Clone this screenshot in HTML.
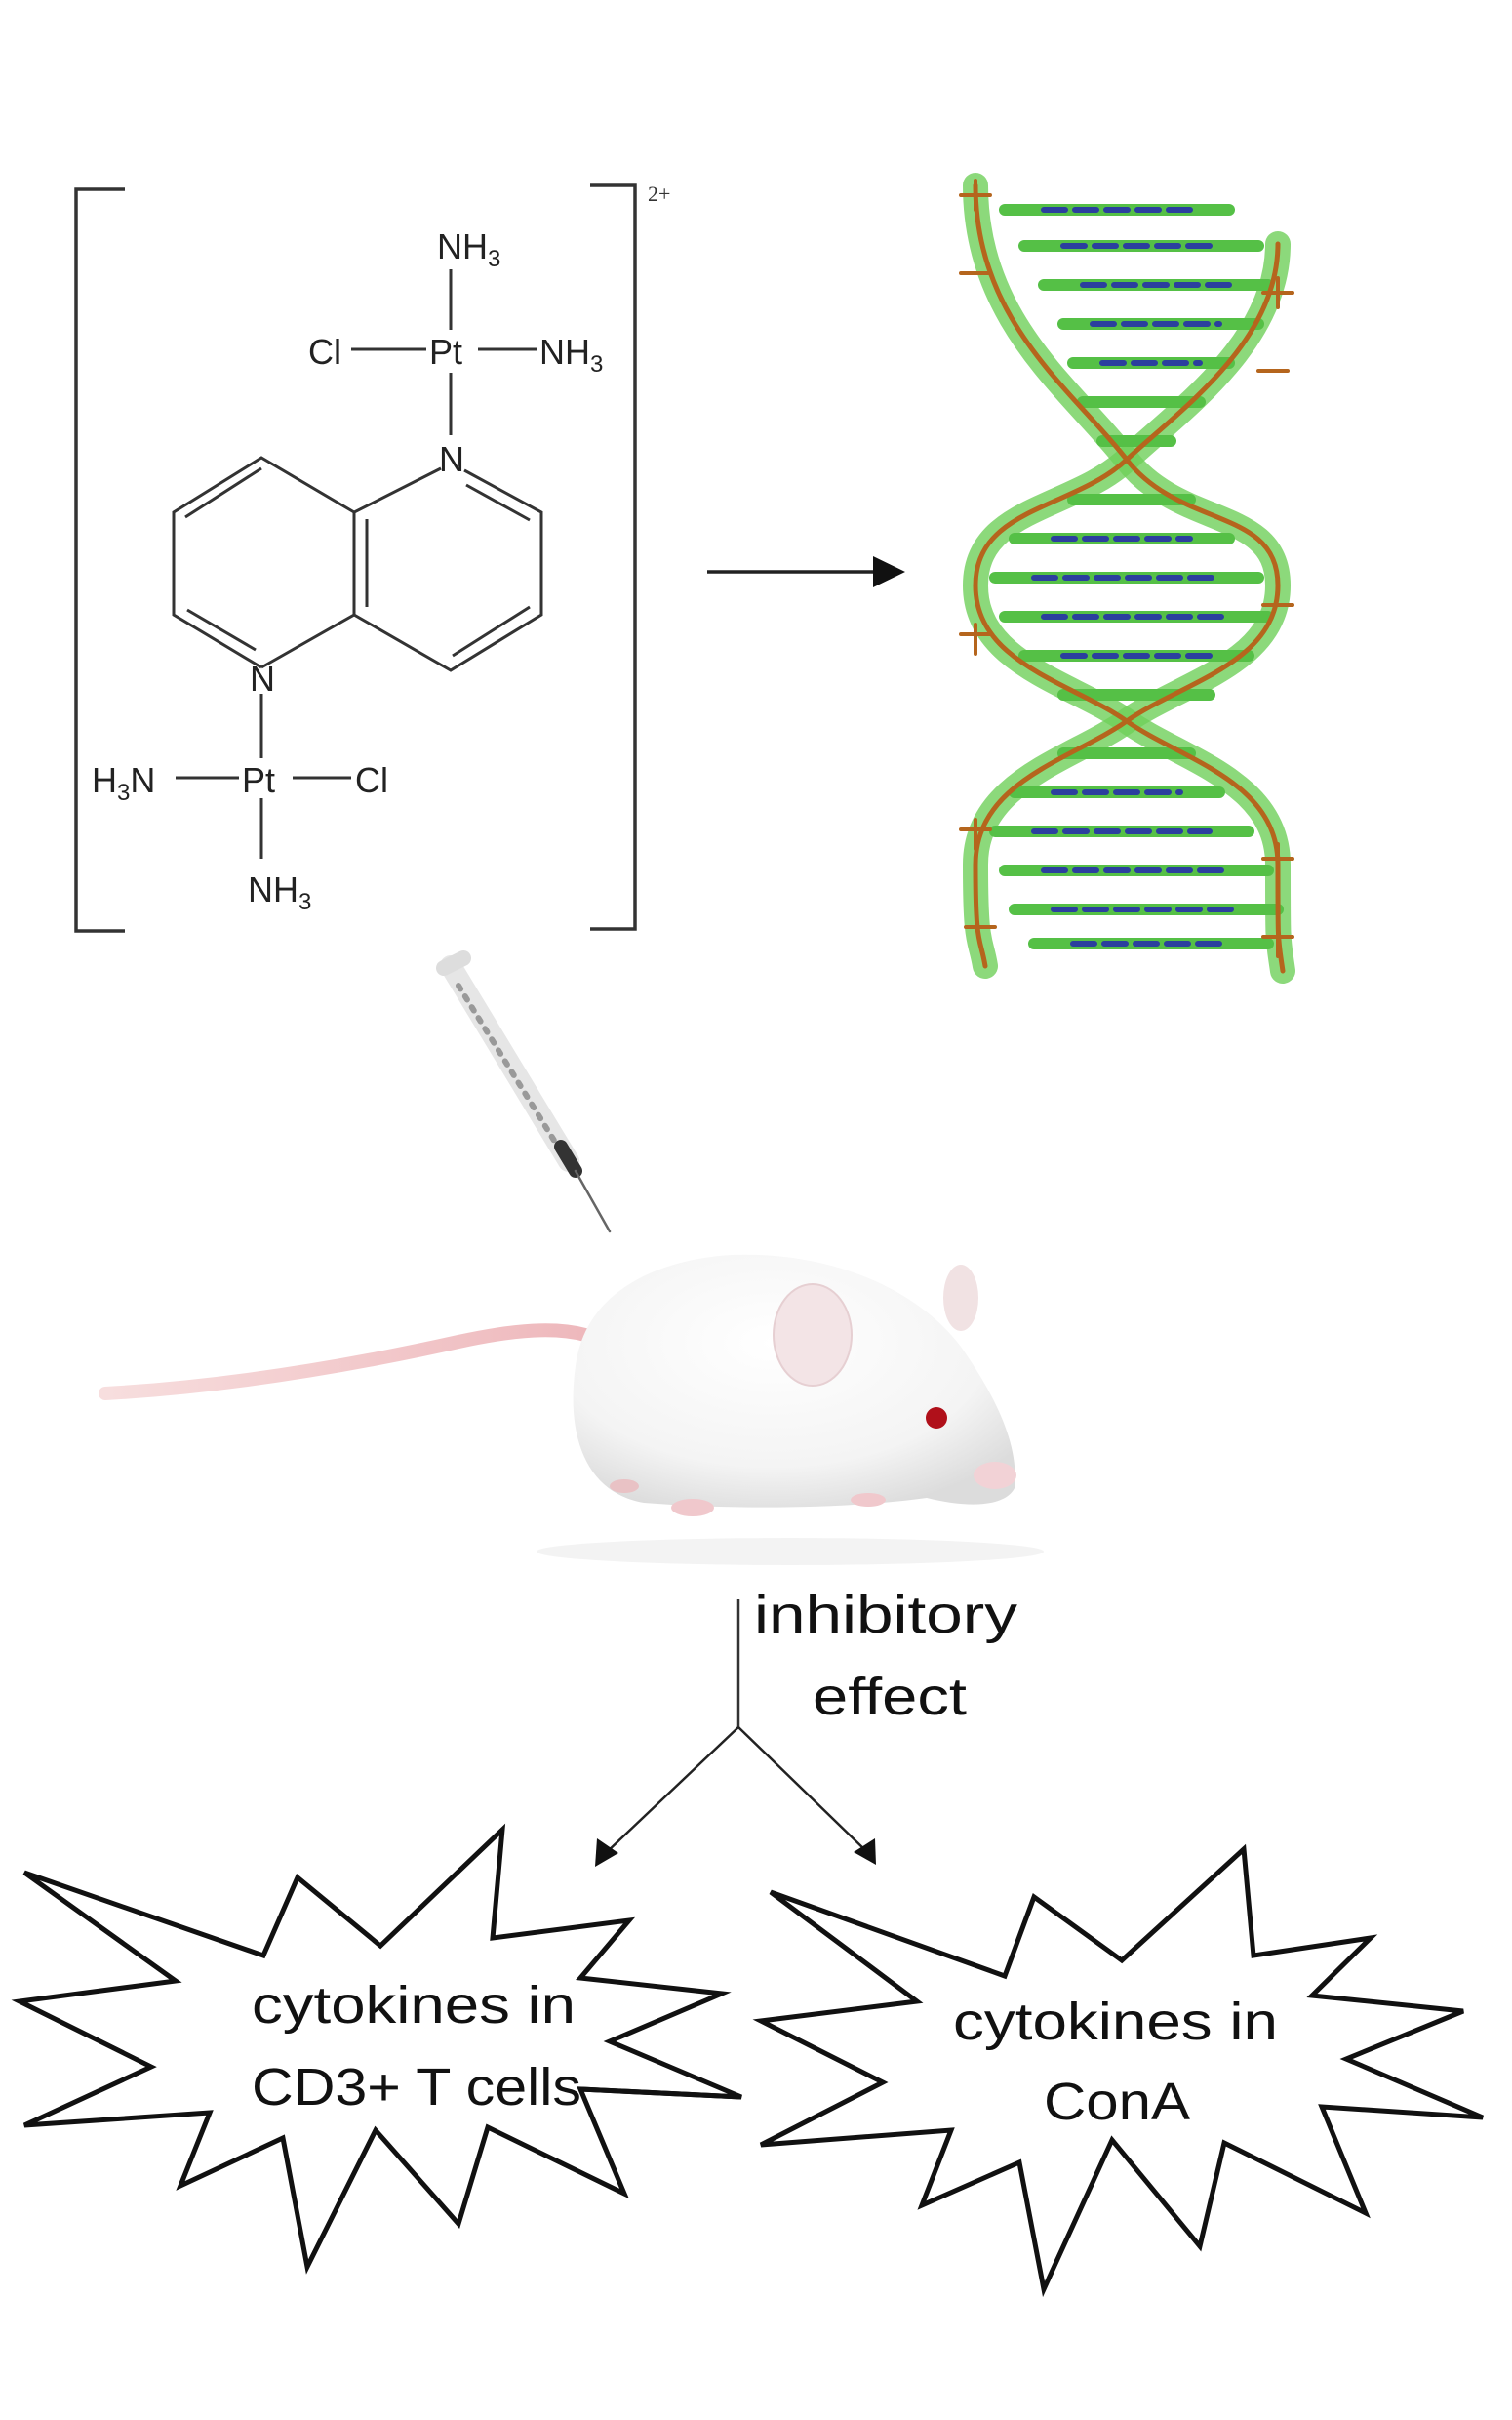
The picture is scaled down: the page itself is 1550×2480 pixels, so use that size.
<!DOCTYPE html>
<html><head><meta charset="utf-8"><style>
html,body{margin:0;padding:0;background:#fff;}
svg{display:block;}
.c{font-family:"Liberation Sans",Arial,sans-serif;font-size:36px;fill:#222;}
.t{font-family:"Liberation Sans",Arial,sans-serif;font-size:54px;fill:#111;}
</style></head><body>
<svg width="1550" height="2480" viewBox="0 0 1550 2480" xmlns="http://www.w3.org/2000/svg">
<defs>
<radialGradient id="fur" cx="0.45" cy="0.35" r="0.7">
<stop offset="0" stop-color="#ffffff"/><stop offset="0.7" stop-color="#f4f4f4"/><stop offset="1" stop-color="#dcdcdc"/>
</radialGradient>
<linearGradient id="tail" x1="0" x2="1"><stop offset="0" stop-color="#f7dede"/><stop offset="1" stop-color="#eeb8bc"/></linearGradient>
</defs>

<!-- brackets -->
<g stroke="#333" stroke-width="3.5" fill="none">
<path d="M128,194 H78 V954 H128"/>
<path d="M605,190 H651 V952 H605"/>
</g>
<text x="664" y="206" style="font-family:'Liberation Serif',serif;font-size:22px;fill:#333">2+</text>

<!-- chemistry -->
<g stroke="#333" stroke-width="3" fill="none">
<line x1="462" y1="276" x2="462" y2="338"/>
<line x1="360" y1="358" x2="437" y2="358"/>
<line x1="490" y1="358" x2="550" y2="358"/>
<line x1="462" y1="382" x2="462" y2="446"/>
<!-- rings -->
<polyline points="452,480 363,525 363,630 268,684"/>
<polyline points="268,684 178,630 178,525 268,469 363,525"/>
<polyline points="363,630 462,687 555,630 555,525 476,482"/>
<line x1="268" y1="480" x2="190" y2="530"/>
<line x1="192" y1="625" x2="262" y2="666"/>
<line x1="376" y1="532" x2="376" y2="622"/>
<line x1="478" y1="497" x2="543" y2="533"/>
<line x1="543" y1="622" x2="464" y2="672"/>
<line x1="268" y1="711" x2="268" y2="777"/>
<line x1="180" y1="797" x2="245" y2="797"/>
<line x1="300" y1="797" x2="360" y2="797"/>
<line x1="268" y1="818" x2="268" y2="880"/>
</g>
<text class="c" x="448" y="265">NH<tspan font-size="24" dy="8">3</tspan></text>
<text class="c" x="316" y="373">Cl</text>
<text class="c" x="440" y="373">Pt</text>
<text class="c" x="553" y="373">NH<tspan font-size="24" dy="8">3</tspan></text>
<text class="c" x="450" y="483">N</text>
<text class="c" x="256" y="708">N</text>
<text class="c" x="94" y="812">H<tspan font-size="24" dy="8">3</tspan><tspan dy="-8">N</tspan></text>
<text class="c" x="248" y="812">Pt</text>
<text class="c" x="364" y="812">Cl</text>
<text class="c" x="254" y="924">NH<tspan font-size="24" dy="8">3</tspan></text>

<!-- arrow to DNA -->
<line x1="725" y1="586" x2="900" y2="586" stroke="#222" stroke-width="3.5"/>
<polygon points="928,586 895,570 895,602" fill="#111"/>

<!-- DNA -->
<g fill="none" stroke-linecap="round">
<path d="M1000,190 C1000,330 1100,400 1155,471 S1310,520 1310,600 S1210,700 1155,739 S1000,800 1000,886 S1005,960 1010,990" stroke="#6fcf5a" stroke-width="26" opacity="0.8"/>
<path d="M1310,250 C1310,350 1210,420 1155,471 S1000,520 1000,600 S1100,700 1155,739 S1310,800 1310,886 S1310,960 1315,995" stroke="#6fcf5a" stroke-width="26" opacity="0.8"/>
<g stroke="#55c046" stroke-width="12">
<line x1="1030" y1="215" x2="1260" y2="215"/><line x1="1050" y1="252" x2="1290" y2="252"/>
<line x1="1070" y1="292" x2="1300" y2="292"/><line x1="1090" y1="332" x2="1290" y2="332"/>
<line x1="1100" y1="372" x2="1260" y2="372"/><line x1="1110" y1="412" x2="1230" y2="412"/>
<line x1="1130" y1="452" x2="1200" y2="452"/><line x1="1100" y1="512" x2="1220" y2="512"/>
<line x1="1040" y1="552" x2="1260" y2="552"/><line x1="1020" y1="592" x2="1290" y2="592"/>
<line x1="1030" y1="632" x2="1300" y2="632"/><line x1="1050" y1="672" x2="1280" y2="672"/>
<line x1="1090" y1="712" x2="1240" y2="712"/><line x1="1090" y1="772" x2="1220" y2="772"/>
<line x1="1040" y1="812" x2="1250" y2="812"/><line x1="1020" y1="852" x2="1280" y2="852"/>
<line x1="1030" y1="892" x2="1300" y2="892"/><line x1="1040" y1="932" x2="1310" y2="932"/>
<line x1="1060" y1="967" x2="1300" y2="967"/>
</g>
<g stroke="#2b3f9e" stroke-width="6" stroke-dasharray="22 10">
<line x1="1070" y1="215" x2="1220" y2="215"/><line x1="1090" y1="252" x2="1250" y2="252"/>
<line x1="1110" y1="292" x2="1260" y2="292"/><line x1="1120" y1="332" x2="1250" y2="332"/>
<line x1="1130" y1="372" x2="1230" y2="372"/><line x1="1080" y1="552" x2="1220" y2="552"/>
<line x1="1060" y1="592" x2="1250" y2="592"/><line x1="1070" y1="632" x2="1260" y2="632"/>
<line x1="1090" y1="672" x2="1240" y2="672"/><line x1="1080" y1="812" x2="1210" y2="812"/>
<line x1="1060" y1="852" x2="1240" y2="852"/><line x1="1070" y1="892" x2="1260" y2="892"/>
<line x1="1080" y1="932" x2="1270" y2="932"/><line x1="1100" y1="967" x2="1260" y2="967"/>
</g>
<path d="M1000,190 C1000,330 1100,400 1155,471 S1310,520 1310,600 S1210,700 1155,739 S1000,800 1000,886 S1005,960 1010,990" stroke="#b5651d" stroke-width="5"/>
<path d="M1310,250 C1310,350 1210,420 1155,471 S1000,520 1000,600 S1100,700 1155,739 S1310,800 1310,886 S1310,960 1315,995" stroke="#b5651d" stroke-width="5"/>
<g stroke="#b5651d" stroke-width="4">
<path d="M985,200h30M1000,185v30M985,280h30M1295,300h30M1310,285v30M1290,380h30M985,650h30M1000,640v30M1295,620h30M985,850h30M1000,840v30M1295,880h30M1310,865v30M1295,960h30M1310,950v30M990,950h30"/>
</g>
</g>

<!-- syringe -->
<g stroke-linecap="round">
<line x1="462" y1="990" x2="583" y2="1190" stroke="#e6e6e6" stroke-width="22"/>
<line x1="470" y1="1010" x2="575" y2="1180" stroke="#999" stroke-width="6" stroke-dasharray="4 9"/>
<line x1="575" y1="1175" x2="590" y2="1200" stroke="#333" stroke-width="14"/>
<line x1="590" y1="1200" x2="625" y2="1262" stroke="#666" stroke-width="2.5"/>
<line x1="455" y1="992" x2="475" y2="982" stroke="#ddd" stroke-width="16"/>
</g>

<!-- mouse -->
<path d="M108,1428 C250,1420 380,1395 470,1375 C530,1362 570,1360 600,1368" stroke="url(#tail)" stroke-width="14" fill="none" stroke-linecap="round"/>
<ellipse cx="810" cy="1590" rx="260" ry="14" fill="#f3f3f3"/>
<path d="M590,1400 C600,1320 680,1290 750,1286 C850,1282 940,1320 985,1380 C1020,1430 1045,1480 1040,1525 C1030,1545 990,1545 950,1535 C880,1545 760,1548 660,1540 C600,1530 580,1470 590,1400 Z" fill="url(#fur)"/>
<ellipse cx="833" cy="1368" rx="40" ry="52" fill="#f3e4e6" stroke="#e6cfd2" stroke-width="2"/>
<ellipse cx="985" cy="1330" rx="18" ry="34" fill="#f1e2e3"/>
<circle cx="960" cy="1453" r="11" fill="#b0101a"/>
<ellipse cx="1020" cy="1512" rx="22" ry="14" fill="#f2d2d6"/>
<ellipse cx="710" cy="1545" rx="22" ry="9" fill="#f0c8cc"/>
<ellipse cx="890" cy="1537" rx="18" ry="7" fill="#f0c8cc"/>
<ellipse cx="640" cy="1523" rx="15" ry="7" fill="#e9c2c5"/>

<!-- inhibitory -->
<line x1="757" y1="1639" x2="757" y2="1770" stroke="#333" stroke-width="2.5"/>
<text class="t" x="773" y="1673" textLength="270" lengthAdjust="spacingAndGlyphs">inhibitory</text>
<text class="t" x="833" y="1757" textLength="158" lengthAdjust="spacingAndGlyphs">effect</text>
<g stroke="#222" stroke-width="2.5">
<line x1="757" y1="1770" x2="622" y2="1898"/>
<line x1="757" y1="1770" x2="888" y2="1897"/>
</g>
<polygon points="610,1913 612,1884 634,1899" fill="#111"/>
<polygon points="898,1911 875,1898 897,1884" fill="#111"/>

<!-- stars -->
<polygon fill="#fff" stroke="#111" stroke-width="5" stroke-linejoin="miter" points="25,1919 270,2004 305,1924 390,1994 515,1875 505,1986 645,1968 595,2027 740,2043 625,2092 760,2149 595,2141 640,2248 500,2180 470,2279 385,2183 315,2323 290,2191 185,2240 215,2165 25,2178 155,2118 20,2051 180,2030"/>
<polygon fill="#fff" stroke="#111" stroke-width="5" points="790,1939 1030,2025 1060,1944 1150,2009 1275,1895 1285,2004 1405,1986 1345,2045 1500,2061 1380,2110 1520,2170 1355,2159 1400,2268 1255,2196 1230,2302 1140,2193 1070,2346 1045,2216 945,2260 975,2183 780,2198 905,2134 780,2071 940,2051"/>
<line x1="595" y1="2141" x2="760" y2="2149" stroke="#111" stroke-width="5"/>
<text class="t" x="258" y="2073" textLength="332" lengthAdjust="spacingAndGlyphs">cytokines in</text>
<text class="t" x="258" y="2157" textLength="338" lengthAdjust="spacingAndGlyphs">CD3+ T cells</text>
<text class="t" x="977" y="2090" textLength="333" lengthAdjust="spacingAndGlyphs">cytokines in</text>
<text class="t" x="1070" y="2172" textLength="150" lengthAdjust="spacingAndGlyphs">ConA</text>
</svg>
</body></html>
